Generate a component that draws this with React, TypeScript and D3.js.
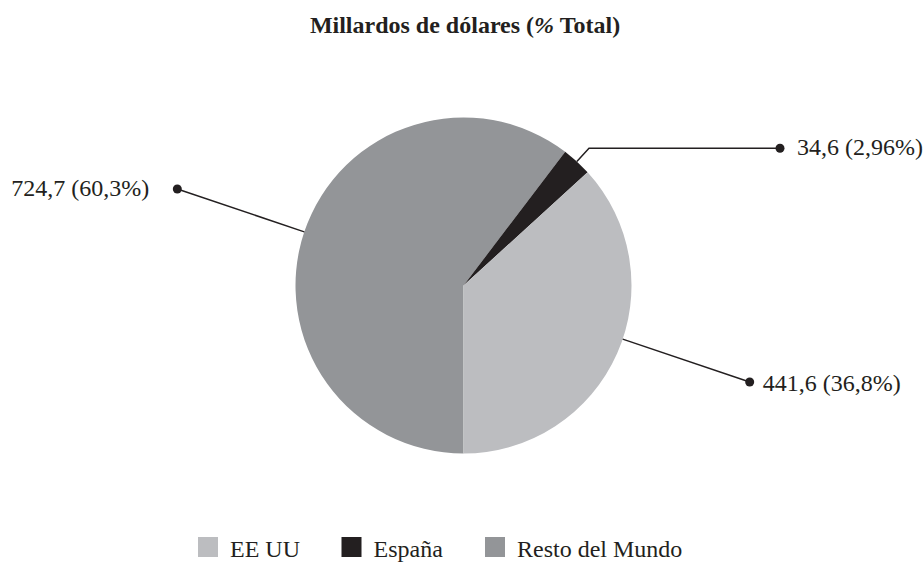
import React from "react";
import * as d3 from "d3";

const categories = ["EE UU", "España", "Resto del Mundo"];
const values = [441.6, 34.6, 724.7];
const percentLabels = ["36,8%", "2,96%", "60,3%"];
const valueLabels = ["441,6", "34,6", "724,7"];
const colors = ["#bcbdc0", "#231f20", "#939598"];
const title = "Millardos de dólares (";
const titlePct = "%";
const titleEnd = " Total)";

const W = 924;
const H = 565;
const cx = 463.5;
const cy = 285.5;
const R = 168;
const FONT = "'Liberation Serif', 'Times New Roman', Times, serif";
const INK = "#231f20";

export default function App() {
  // drawing order: Resto, España, EE UU clockwise starting at the bottom
  const order = [2, 1, 0];
  const pie = d3
    .pie<number>()
    .sort(null)
    .value((i) => values[i])
    .startAngle(Math.PI)
    .endAngle(3 * Math.PI);
  const arcs = pie(order);
  const arcGen = d3.arc<d3.PieArcDatum<number>>().innerRadius(0).outerRadius(R);

  const byIdx: Record<number, d3.PieArcDatum<number>> = {};
  arcs.forEach((a) => (byIdx[a.data] = a));
  const mid = (a: d3.PieArcDatum<number>) => (a.startAngle + a.endAngle) / 2;
  const pt = (ang: number, r: number): [number, number] => [
    cx + r * Math.sin(ang),
    cy - r * Math.cos(ang),
  ];

  const restoAng = mid(byIdx[2]);
  const usAng = restoAng - Math.PI; // leader on the same diameter
  const spAng = mid(byIdx[1]);

  const restoStart = pt(restoAng, R);
  const restoDot = pt(restoAng, 302);
  const usStart = pt(usAng, R);
  const usDot = pt(usAng, 302);
  const spStart = pt(spAng, R);
  const spElbow = pt(spAng, 186);
  const spDot: [number, number] = [780, spElbow[1]];

  const label = (i: number) => `${valueLabels[i]} (${percentLabels[i]})`;

  return (
    <svg
      width={W}
      height={H}
      style={{ position: "absolute", left: 0, top: 0, display: "block", background: "#fff" }}
      fontFamily={FONT}
    >
      <text x={465} y={33} textAnchor="middle" fontSize={24} fontWeight="bold" fill={INK}>
        {title}
        <tspan fontStyle="italic">{titlePct}</tspan>
        {titleEnd}
      </text>

      <g transform={`translate(${cx},${cy})`}>
        {arcs.map((a) => (
          <path key={a.data} d={arcGen(a) || ""} fill={colors[a.data]} />
        ))}
      </g>

      {/* leaders */}
      <g stroke={INK} strokeWidth={1.5} fill="none">
        <line x1={restoStart[0]} y1={restoStart[1]} x2={restoDot[0]} y2={restoDot[1]} />
        <line x1={usStart[0]} y1={usStart[1]} x2={usDot[0]} y2={usDot[1]} />
        <polyline
          points={[spStart, spElbow, spDot].map((p) => p.join(",")).join(" ")}
        />
      </g>
      <g fill={INK}>
        <circle cx={restoDot[0]} cy={restoDot[1]} r={4.5} />
        <circle cx={usDot[0]} cy={usDot[1]} r={4.5} />
        <circle cx={spDot[0]} cy={spDot[1]} r={4.5} />
      </g>
      <g fontSize={24} fill={INK}>
        <text x={restoDot[0] - 28} y={restoDot[1] + 7} textAnchor="end">
          {label(2)}
        </text>
        <text x={spDot[0] + 17} y={spDot[1] + 7}>
          {label(1)}
        </text>
        <text x={usDot[0] + 13} y={usDot[1] + 9}>
          {label(0)}
        </text>
      </g>

      {/* legend */}
      <g>
        {categories.map((c, i) => {
          const x = 198 + i * 143.5;
          return (
            <g key={c}>
              <rect x={x} y={537} width={20} height={20} fill={colors[i]} />
              <text x={x + 32} y={557} fontSize={24} fill={INK}>
                {c}
              </text>
            </g>
          );
        })}
      </g>
    </svg>
  );
}
